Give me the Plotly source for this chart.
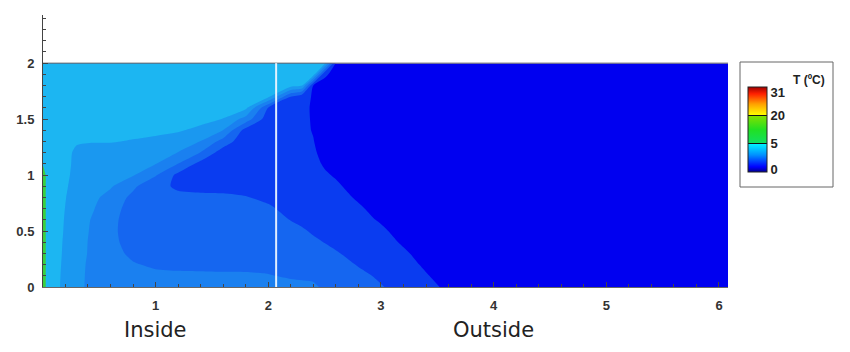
import plotly.graph_objects as go

# ---- data -----------------------------------------------------------------
# grid node positions (m)
X_NODES = [0, 0.03, 0.15, 0.3, 0.45, 0.6, 0.8, 1.0, 1.2, 1.4, 1.6, 1.8, 2.0,
           2.2, 2.3, 2.4, 2.5, 2.6, 2.8, 3.0, 3.2, 3.4, 3.6, 6.08]
Y_NODES = [0, 0.1, 0.2, 0.3, 0.4, 0.5, 0.6, 0.7, 0.8, 0.9, 1.0,
           1.1, 1.2, 1.3, 1.4, 1.5, 1.6, 1.7, 1.8, 1.9, 2.0]

# estimated temperature field (one list per x node, bottom -> top)
T_COLUMNS = [
    [7, 7, 7, 7, 7, 7, 7, 7, 7, 7, 6.8, 5.9, 5.9, 5.9, 5.9, 5.9, 5.9, 5.9, 5.9, 5.9, 5.9],
    [5.8, 5.8, 5.8, 5.8, 5.8, 5.8, 5.8, 5.8, 5.8, 5.8, 5.8, 5.8, 5.8, 5.8, 5.8, 5.8, 5.8, 5.8, 5.8, 5.8, 5.8],
    [5.01, 5.03, 5.06, 5.09, 5.11, 5.14, 5.16, 5.18, 5.2, 5.22, 5.24, 5.25, 5.27, 5.4, 5.5, 5.6, 5.6, 5.6, 5.6, 5.6, 5.6],
    [4.25, 4.28, 4.31, 4.35, 4.4, 4.46, 4.5, 4.58, 4.67, 4.77, 4.84, 4.88, 4.9, 5.05, 5.3, 5.5, 5.6, 5.6, 5.6, 5.6, 5.6],
    [3.7, 3.7, 3.72, 3.78, 3.78, 3.82, 3.88, 4.04, 4.21, 4.44, 4.61, 4.69, 4.76, 5.03, 5.3, 5.5, 5.6, 5.6, 5.6, 5.6, 5.6],
    [3.6, 3.55, 3.45, 3.34, 3.27, 3.24, 3.28, 3.39, 3.64, 4.11, 4.38, 4.5, 4.6, 5.05, 5.3, 5.5, 5.6, 5.6, 5.6, 5.6, 5.6],
    [3.45, 3.3, 3.08, 2.8, 2.6, 2.5, 2.5, 2.6, 2.75, 3.2, 4.08, 4.35, 4.65, 4.94, 5.25, 5.45, 5.6, 5.6, 5.6, 5.6, 5.6],
    [3.4, 3.22, 2.85, 2.6, 2.45, 2.35, 2.25, 2.15, 2.1, 2.2, 3.1, 4.02, 4.4, 4.8, 5.2, 5.45, 5.6, 5.6, 5.6, 5.6, 5.6],
    [3.38, 3.18, 2.78, 2.6, 2.48, 2.38, 2.28, 2.18, 2.15, 1.9, 1.75, 2.98, 3.97, 4.55, 5.1, 5.4, 5.6, 5.6, 5.6, 5.6, 5.6],
    [3.36, 3.15, 2.78, 2.62, 2.5, 2.4, 2.3, 2.2, 2.15, 1.8, 1.6, 1.65, 2.95, 3.97, 4.75, 5.3, 5.5, 5.6, 5.6, 5.6, 5.6],
    [3.33, 3.12, 2.78, 2.62, 2.5, 2.4, 2.3, 2.22, 2.15, 1.75, 1.45, 1.35, 1.45, 2.6, 3.98, 4.97, 5.4, 5.6, 5.6, 5.6, 5.6],
    [3.32, 3.1, 2.8, 2.62, 2.5, 2.4, 2.3, 2.2, 2.05, 1.65, 1.35, 1.2, 1.15, 1.25, 1.6, 3.6, 5.2, 5.45, 5.6, 5.6, 5.6],
    [3.3, 3.05, 2.75, 2.6, 2.5, 2.4, 2.3, 2.15, 1.8, 1.5, 1.3, 1.2, 1.15, 1.15, 1.2, 1.4, 1.95, 5.2, 5.45, 5.6, 5.6],
    [3.25, 2.9, 2.7, 2.55, 2.4, 2.2, 1.98, 1.7, 1.5, 1.35, 1.25, 1.2, 1.15, 1.15, 1.15, 1.2, 1.35, 1.95, 5.4, 5.55, 5.6],
    [3.18, 2.88, 2.65, 2.48, 2.3, 2.1, 1.82, 1.6, 1.45, 1.32, 1.22, 1.16, 1.13, 1.12, 1.12, 1.12, 1.12, 1.2, 5.05, 5.5, 5.6],
    [3.1, 2.88, 2.6, 2.4, 2.15, 1.9, 1.6, 1.45, 1.35, 1.25, 1.18, 1.12, 1.07, 1.02, 0.97, 0.95, 0.94, 0.95, 0.98, 5.5, 5.6],
    [2.9, 2.72, 2.5, 2.25, 1.98, 1.75, 1.55, 1.42, 1.3, 1.18, 1.06, 0.95, 0.85, 0.75, 0.68, 0.65, 0.65, 0.7, 0.8, 1.1, 5.3],
    [2.7, 2.5, 2.3, 2.08, 1.8, 1.6, 1.45, 1.3, 1.2, 1.08, 0.95, 0.82, 0.7, 0.6, 0.5, 0.45, 0.45, 0.5, 0.6, 0.8, 0.9],
    [2.35, 2.18, 1.95, 1.7, 1.5, 1.35, 1.22, 1.08, 0.93, 0.8, 0.7, 0.6, 0.5, 0.45, 0.45, 0.45, 0.45, 0.45, 0.45, 0.45, 0.45],
    [2.05, 1.88, 1.7, 1.5, 1.32, 1.12, 0.93, 0.8, 0.7, 0.6, 0.5, 0.45, 0.45, 0.45, 0.45, 0.45, 0.45, 0.45, 0.45, 0.45, 0.45],
    [1.72, 1.55, 1.35, 1.12, 0.9, 0.75, 0.65, 0.55, 0.5, 0.45, 0.45, 0.45, 0.45, 0.45, 0.45, 0.45, 0.45, 0.45, 0.45, 0.45, 0.45],
    [1.27, 1.07, 0.85, 0.7, 0.6, 0.5, 0.45, 0.45, 0.45, 0.45, 0.45, 0.45, 0.45, 0.45, 0.45, 0.45, 0.45, 0.45, 0.45, 0.45, 0.45],
    [0.82, 0.6, 0.5, 0.45, 0.45, 0.45, 0.45, 0.45, 0.45, 0.45, 0.45, 0.45, 0.45, 0.45, 0.45, 0.45, 0.45, 0.45, 0.45, 0.45, 0.45],
    [0.4, 0.4, 0.4, 0.4, 0.4, 0.4, 0.4, 0.4, 0.4, 0.4, 0.4, 0.4, 0.4, 0.4, 0.4, 0.4, 0.4, 0.4, 0.4, 0.4, 0.4],
]

# contour levels and band colours
LEVEL_START, LEVEL_END, LEVEL_STEP = 1, 6, 1
BAND_COLORS = ["#0000f0", "#0a3cf0", "#1566f0", "#1a80f0", "#1a98f0", "#1cb6f2", "#3ccf3c"]

WALL_X = [2.07, 2.07]          # inside / outside boundary
WALL_Y = [0, 2.0]
DOMAIN_X = [0, 6.08]
DOMAIN_TOP = [2.0, 2.0]

CBAR_TICKVALS = [0.08, 1, 2, 2.8]
CBAR_TICKTEXT = ["0", "5", "20", "31"]
X_TEXT = [1, 4]
X_TEXT_LABELS = ["Inside", "Outside"]

# ---- figure ------------------------------------------------------------------
n = len(BAND_COLORS) - 1
colorscale = [[i / n, c] for i, c in enumerate(BAND_COLORS)]

fig = go.Figure()
fig.add_trace(go.Contour(
    x=X_NODES, y=Y_NODES, z=T_COLUMNS, transpose=True,
    contours=dict(start=LEVEL_START, end=LEVEL_END, size=LEVEL_STEP,
                  coloring="fill", showlines=False),
    line=dict(width=0, smoothing=0.7),
    colorscale=colorscale, showscale=False, hoverinfo="skip",
))
fig.add_trace(go.Scatter(x=DOMAIN_X, y=DOMAIN_TOP, mode="lines",
                         line=dict(color="#6a6a6a", width=1), hoverinfo="skip"))
fig.add_trace(go.Scatter(x=WALL_X, y=WALL_Y, mode="lines",
                         line=dict(color="rgba(236,246,255,0.95)", width=2), hoverinfo="skip"))

jet = [[0, "#000090"], [0.06, "#0000ff"], [0.2, "#0090ff"], [0.327, "#00f0ff"],
       [0.327, "#111111"], [0.34, "#111111"], [0.34, "#10e060"], [0.5, "#22e022"],
       [0.655, "#80e000"], [0.655, "#111111"], [0.668, "#111111"], [0.668, "#ffff00"],
       [0.8, "#ffa000"], [0.92, "#ff2000"], [1, "#a00000"]]
fig.add_trace(go.Scatter(
    x=[None, None], y=[None, None], mode="markers", hoverinfo="skip",
    marker=dict(color=[0, 3], cmin=0, cmax=3, colorscale=jet, showscale=True,
                colorbar=dict(x=(748 - 43) / 685, xanchor="left",
                              y=(287 - 172) / 272, yanchor="bottom",
                              len=85 / 272, lenmode="fraction", thickness=19,
                              xpad=0, ypad=0, outlinewidth=1, outlinecolor="#222",
                              tickmode="array", tickvals=CBAR_TICKVALS,
                              ticktext=CBAR_TICKTEXT, ticks="",
                              tickfont=dict(family="Liberation Sans, Arial", size=13,
                                            color="#222", weight="bold"))),
))

tickfont = dict(family="Liberation Sans, Arial", size=13, color="#333", weight="bold")
fig.update_layout(
    width=850, height=352, showlegend=False,
    margin=dict(l=43, r=122, t=15, b=65, pad=0),
    paper_bgcolor="white", plot_bgcolor="white",
    xaxis=dict(range=[0.001, 6.08], tick0=0, dtick=1, ticks="inside", ticklen=5,
               tickcolor="#444", showline=True, linecolor="#666", linewidth=1,
               showgrid=False, zeroline=False, tickfont=tickfont, ticklabelstandoff=6,
               minor=dict(dtick=0.2, tick0=0, ticks="inside", ticklen=3, tickcolor="#444")),
    yaxis=dict(range=[0, 2.43], tick0=0, dtick=0.5, ticks="inside", ticklen=5,
               tickcolor="#444", showline=True, linecolor="#444", linewidth=1,
               showgrid=False, zeroline=False, tickfont=tickfont, ticklabelstandoff=5,
               minor=dict(dtick=0.1, tick0=0, ticks="inside", ticklen=3, tickcolor="#444")),
    shapes=[dict(type="rect", xref="paper", yref="paper",
                 x0=(740 - 43) / 685, x1=(833 - 43) / 685,
                 y0=(287 - 187) / 272, y1=(287 - 62) / 272,
                 line=dict(color="#666", width=1), fillcolor="rgba(0,0,0,0)")],
)

for xv, txt in zip(X_TEXT, X_TEXT_LABELS):
    fig.add_annotation(x=xv, xref="x", y=-(330 - 287) / 272, yref="paper",
                       text=txt, showarrow=False, yanchor="middle",
                       font=dict(family="DejaVu Sans", size=21, color="#222"))
fig.add_annotation(x=(827 - 43) / 685, xref="paper", y=(287 - 80) / 272, yref="paper",
                   xanchor="right", yanchor="middle", text="T (ºC)", showarrow=False,
                   font=dict(family="Liberation Sans, Arial", size=12, color="#222",
                             weight="bold"))

fig.write_html("out.html")
